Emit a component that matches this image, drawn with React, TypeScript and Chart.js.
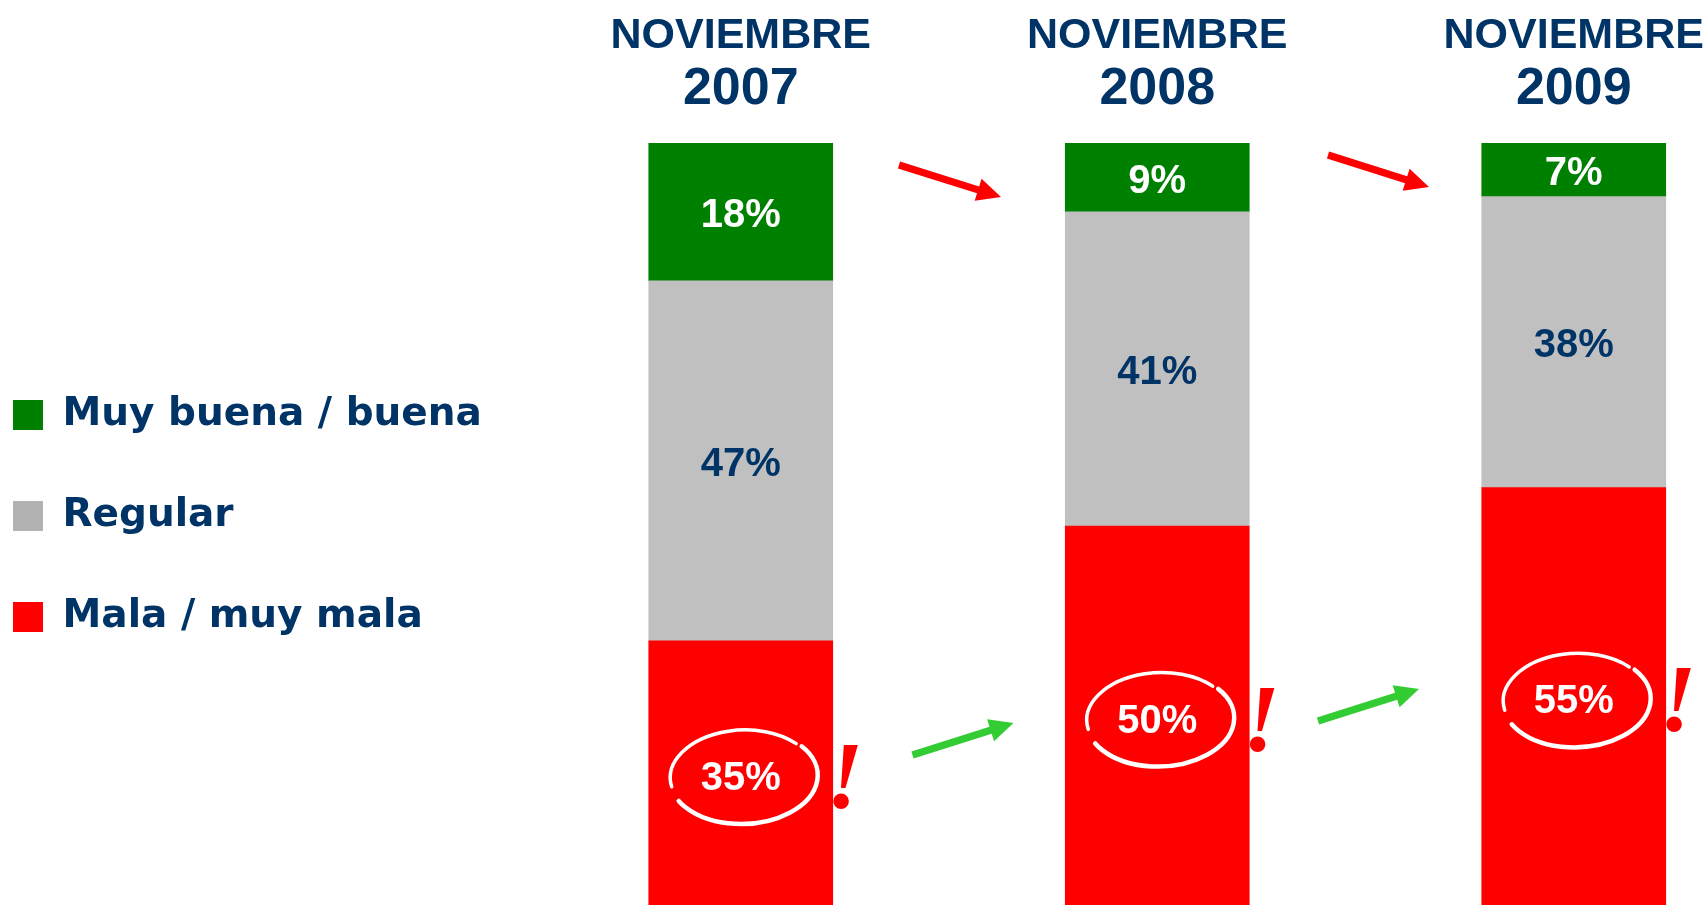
import React, { useEffect, useRef } from 'react';
import { Chart, registerables } from 'chart.js';

Chart.register(...registerables);

// ---- data ----
const yearLabels = ['2007', '2008', '2009'];
const monthLabels = ['NOVIEMBRE', 'NOVIEMBRE', 'NOVIEMBRE'];
const seriesNames = ['Mala / muy mala', 'Regular', 'Muy buena / buena'];
const malaValues = [35, 50, 55];
const regularValues = [47, 41, 38];
const buenaValues = [18, 9, 7];

// ---- styles ----
const NAVY = '#003366';
const barColors = ['#FF0000', '#C0C0C0', '#008000'];
const legendColors = ['#FF0000', '#B2B2B2', '#008000'];
const valueLabelColors = ['#FFFFFF', NAVY, '#FFFFFF'];
const SHIFT_X = 49; // canvas is shifted left inside the page frame
const PLOT_LEFT = 581.5; // canvas x of the plot area's left edge

type ArrowDef = { gap: number; dx: number; cy: number; vx: number; vy: number; color: string };
const arrows: ArrowDef[] = [
  { gap: 0, dx: 1, cy: 38, vx: 102, vy: 32, color: '#FF0000' },
  { gap: 1, dx: 13, cy: 28, vx: 101, vy: 32, color: '#FF0000' },
  { gap: 0, dx: 14, cy: 596, vx: 101, vy: -32, color: '#33CC33' },
  { gap: 1, dx: 3, cy: 562, vx: 101, vy: -32, color: '#33CC33' },
];

function drawArrow(ctx: CanvasRenderingContext2D, x0: number, y0: number, x1: number, y1: number, color: string) {
  const ang = Math.atan2(y1 - y0, x1 - x0);
  const c = Math.cos(ang), s = Math.sin(ang);
  const nx = -s, ny = c;
  const headLen = 24, headW = 11.5, half = 3.6;
  const bx = x1 - headLen * c, by = y1 - headLen * s;
  ctx.save();
  ctx.fillStyle = color;
  ctx.beginPath();
  ctx.moveTo(x0 + nx * half, y0 + ny * half);
  ctx.lineTo(bx + nx * half, by + ny * half);
  ctx.lineTo(bx + nx * headW, by + ny * headW);
  ctx.lineTo(x1, y1);
  ctx.lineTo(bx - nx * headW, by - ny * headW);
  ctx.lineTo(bx - nx * half, by - ny * half);
  ctx.lineTo(x0 - nx * half, y0 - ny * half);
  ctx.closePath();
  ctx.fill();
  ctx.restore();
}

const decorPlugin = {
  id: 'decor',
  afterDatasetsDraw(chart: any) {
    const ctx: CanvasRenderingContext2D = chart.ctx;
    const area = chart.chartArea;
    const D = Math.PI / 180;
    chart.data.datasets.forEach((ds: any, di: number) => {
      const meta = chart.getDatasetMeta(di);
      meta.data.forEach((el: any, j: number) => {
        const p = el.getProps(['x', 'y', 'base', 'width'], true);
        const cy = (p.y + p.base) / 2;
        ctx.save();
        ctx.font = 'bold 40px "Liberation Sans", Arial, sans-serif';
        ctx.fillStyle = valueLabelColors[di];
        ctx.textAlign = 'center';
        ctx.textBaseline = 'middle';
        ctx.fillText(`${ds.data[j]}%`, p.x, cy + 4);
        ctx.restore();
        if (di === 0) {
          const ex = p.x + 3, ey = cy + 2;
          ctx.save();
          ctx.strokeStyle = '#FFFFFF';
          ctx.lineCap = 'round';
          ctx.lineWidth = 4.5;
          ctx.beginPath();
          ctx.ellipse(ex, ey, 74, 47, -0.04, -37 * D, 153 * D);
          ctx.stroke();
          ctx.lineWidth = 3.5;
          ctx.beginPath();
          ctx.ellipse(ex - 1, ey - 1, 72.5, 46, -0.04, 170 * D, 319 * D);
          ctx.stroke();
          ctx.restore();
          ctx.save();
          ctx.fillStyle = '#FF0000';
          ctx.font = 'italic bold 96px "Liberation Serif", serif';
          ctx.textAlign = 'center';
          ctx.textBaseline = 'alphabetic';
          ctx.fillText('!', p.x + p.width / 2 + 12, cy + 33);
          ctx.restore();
        }
      });
    });
    const bars = chart.getDatasetMeta(0).data;
    arrows.forEach((a) => {
      const b0 = bars[a.gap], b1 = bars[a.gap + 1];
      if (!b0 || !b1) return;
      const mid = (b0.x + b1.x) / 2 + a.dx;
      const cy = area.top + a.cy;
      drawArrow(ctx, mid - a.vx / 2, cy - a.vy / 2, mid + a.vx / 2, cy + a.vy / 2, a.color);
    });
  },
};

export default function App() {
  const ref = useRef<HTMLCanvasElement | null>(null);
  useEffect(() => {
    if (!ref.current) return;
    const chart = new Chart(ref.current, {
      type: 'bar',
      data: {
        labels: yearLabels,
        datasets: [
          { label: seriesNames[0], data: malaValues, backgroundColor: barColors[0], borderWidth: 0, barThickness: 184 },
          { label: seriesNames[1], data: regularValues, backgroundColor: barColors[1], borderWidth: 0, barThickness: 184 },
          { label: seriesNames[2], data: buenaValues, backgroundColor: barColors[2], borderWidth: 0, barThickness: 184 },
        ],
      },
      options: {
        responsive: false,
        maintainAspectRatio: false,
        animation: false,
        events: [],
        layout: { padding: { left: 0, top: 0, right: 29, bottom: 6 } },
        scales: {
          x: {
            type: 'category',
            position: 'top',
            stacked: true,
            offset: true,
            weight: 0,
            grid: { display: false, drawTicks: false },
            border: { display: false },
            ticks: {
              color: NAVY,
              font: { family: '"Liberation Sans", Arial, sans-serif', size: 52, weight: 'bold', lineHeight: 1.2 },
              padding: 22,
              maxRotation: 0,
              minRotation: 0,
              autoSkip: false,
            },
            afterFit: (s: any) => { s.height = 81.1; },
          },
          x2: {
            type: 'category',
            position: 'top',
            labels: monthLabels,
            offset: true,
            weight: 1,
            grid: { display: false, drawTicks: false },
            border: { display: false },
            ticks: {
              color: NAVY,
              font: { family: '"Liberation Sans", Arial, sans-serif', size: 43, weight: 'bold', lineHeight: 1.2 },
              padding: 0,
              maxRotation: 0,
              minRotation: 0,
              autoSkip: false,
            },
            afterFit: (s: any) => { s.height = 61.9; },
          },
          y: {
            stacked: true,
            min: 0,
            max: 100,
            display: true,
            grid: { display: false, drawTicks: false },
            border: { display: false },
            ticks: { display: false },
            afterFit: (s: any) => {
              const lw = s.chart.legend ? s.chart.legend.width : 0;
              s.width = Math.max(0, PLOT_LEFT - lw);
            },
          },
        },
        plugins: {
          tooltip: { enabled: false },
          legend: {
            position: 'left',
            align: 'center',
            reverse: true,
            maxWidth: 700,
            title: { display: true, text: '', padding: { top: 113, bottom: 0 }, font: { size: 10, lineHeight: 1 } },
            labels: {
              boxWidth: 30,
              boxHeight: 30,
              padding: 62,
              color: NAVY,
              font: { family: '"DejaVu Sans", sans-serif', size: 39, weight: 'bold' },
              generateLabels: (c: any) => {
                const items = (Chart.defaults as any).plugins.legend.labels.generateLabels(c);
                return items.map((it: any) => ({ ...it, fillStyle: legendColors[it.datasetIndex], strokeStyle: 'rgba(0,0,0,0)', lineWidth: 0 }));
              },
            },
          },
        },
      },
      plugins: [decorPlugin],
    } as any);
    return () => chart.destroy();
  }, []);

  return (
    <div style={{ position: 'fixed', left: 0, top: 0, width: 1706, height: 905, overflow: 'hidden', background: '#FFFFFF' }}>
      <canvas ref={ref} width={1860} height={915} style={{ position: 'absolute', left: -SHIFT_X, top: 0, display: 'block' }} />
    </div>
  );
}
